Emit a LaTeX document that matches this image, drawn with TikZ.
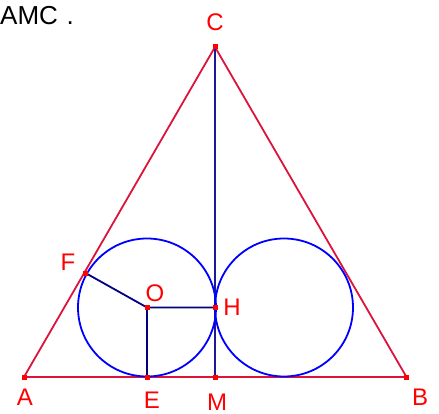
\documentclass[tikz,border=0pt]{standalone}
\usepackage{fontspec}
\setmainfont{Liberation Sans}
\definecolor{tri}{HTML}{DC143C}
\definecolor{lbl}{HTML}{FF0000}
\definecolor{seg}{HTML}{000080}
\definecolor{cm}{HTML}{1A1A9A}
\begin{document}
\begin{tikzpicture}[x=1pt,y=-1pt,
  trid/.style={draw=tri,line width=1.8pt},
  segd/.style={draw=seg,line width=1.8pt},
  circd/.style={draw=blue,line width=1.8pt},
  lab/.style={text=lbl,font=\fontsize{24}{24}\selectfont,inner sep=0pt},
  pt/.style={fill=lbl,minimum size=5pt,inner sep=0pt,draw=none,rectangle}]
\useasboundingbox (0,0) rectangle (439,414);
\node[font=\fontsize{26}{26}\selectfont,anchor=base west,inner sep=0pt] (title) at (0,25) {AMC\,\,.};
\coordinate (A) at (24,377);
\coordinate (B) at (406.5,377);
\coordinate (C) at (215,47);
\coordinate (M) at (215,377);
\coordinate (E) at (147,377);
\coordinate (O) at (147,307.5);
\coordinate (H) at (215,307.5);
\coordinate (F) at (85.5,273);
\coordinate (O2) at (284,307.5);
\draw[trid] (A) -- (B) -- (C) -- cycle;
\draw[segd,draw=cm] (C) -- (M);
\draw[segd] (F) -- (O) -- (H);
\draw[segd] (O) -- (E);
\draw[circd] (O) circle (69);
\draw[circd] (O2) circle (69);
\foreach \p in {A,B,C,M,E,O,H,F} \node[pt] (m\p) at (\p) {};
\node[lab] (lC) at (215,22) {C};
\node[lab] (lA) at (25,397) {A};
\node[lab] (lB) at (420,397) {B};
\node[lab] (lE) at (152,400) {E};
\node[lab] (lM) at (217,402.5) {M};
\node[lab] (lF) at (68,262) {F};
\node[lab] (lO) at (155,293) {O};
\node[lab] (lH) at (232,307) {H};
\end{tikzpicture}
\end{document}
